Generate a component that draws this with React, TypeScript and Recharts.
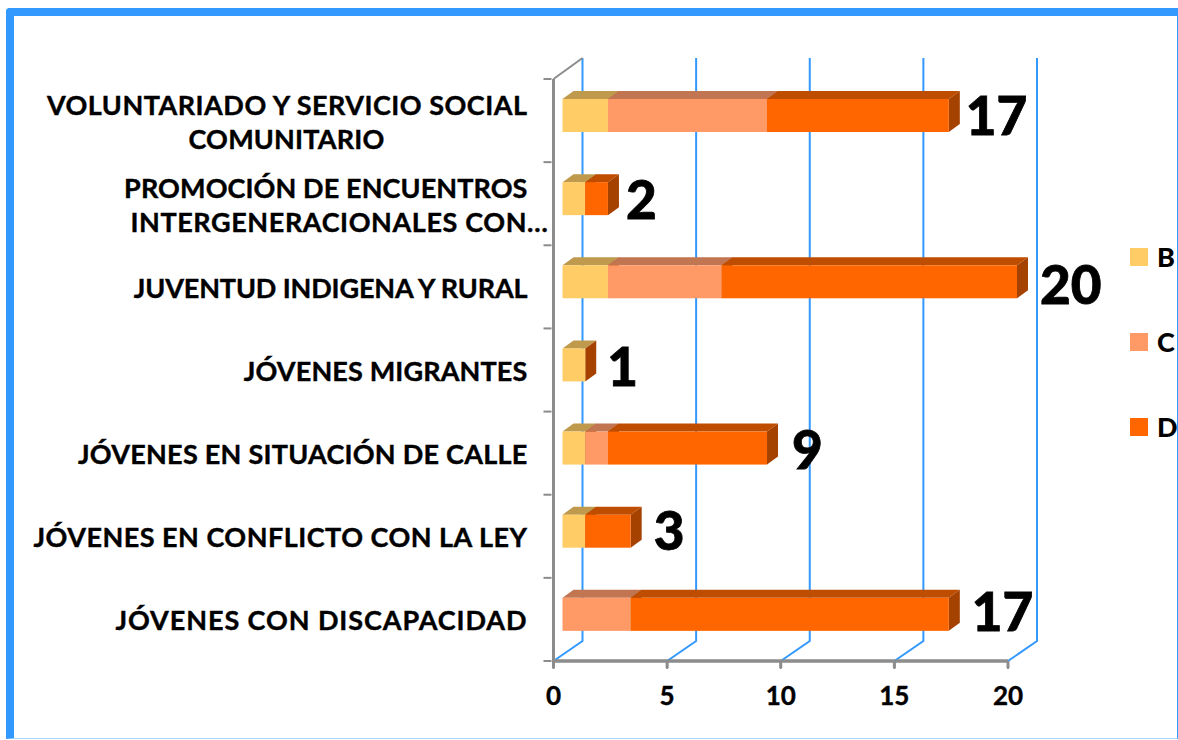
import { BarChart, Bar, XAxis, YAxis, CartesianGrid, Legend, LabelList } from 'recharts';

const CATEGORIES = [
  'VOLUNTARIADO Y SERVICIO SOCIAL|COMUNITARIO',
  'PROMOCIÓN DE ENCUENTROS|INTERGENERACIONALES CON…',
  'JUVENTUD INDIGENA Y RURAL',
  'JÓVENES MIGRANTES',
  'JÓVENES EN SITUACIÓN DE CALLE',
  'JÓVENES EN CONFLICTO CON LA LEY',
  'JÓVENES CON DISCAPACIDAD',
];
const SERIES_B = [2, 1, 2, 1, 1, 1, 0];
const SERIES_C = [7, 0, 5, 0, 1, 0, 3];
const SERIES_D = [8, 1, 13, 0, 7, 2, 14];
const TOTALS = [17, 2, 20, 1, 9, 3, 17];
const X_TICKS = [0, 5, 10, 15, 20];

// small hand nudges for the big total labels [dx, dy]
const TOTAL_NUDGE = [
  [-7, 0], [-6, 1], [-1, 3], [-2, 2], [1, 2], [-1, 0], [-1, -2],
];

// letter spacing per label line, Lato runs wider or narrower than the original font
const LINE_TRACKING: Record<string, number> = {
  'VOLUNTARIADO Y SERVICIO SOCIAL': 0.5,
  COMUNITARIO: 0.2,
  'PROMOCIÓN DE ENCUENTROS': 0.1,
  'INTERGENERACIONALES CON…': 0.6,
  'JUVENTUD INDIGENA Y RURAL': -0.13,
  'JÓVENES MIGRANTES': 0.14,
  'JÓVENES EN SITUACIÓN DE CALLE': 0.25,
  'JÓVENES EN CONFLICTO CON LA LEY': 0.49,
  'JÓVENES CON DISCAPACIDAD': 0.92,
};

const chartData = CATEGORIES.map((name, i) => ({
  name,
  B: SERIES_B[i],
  C: SERIES_C[i],
  D: SERIES_D[i],
}));

const FONT = 'Lato, "Open Sans", sans-serif';
const BLUE = '#3399ff';
const GREY = '#8c8c8c';

const PLOT_TOP = 79;
const PLOT_BOTTOM = 661;
const PLOT_LEFT = 553.5;
const PLOT_RIGHT = 1008;
const BAND = (PLOT_BOTTOM - PLOT_TOP) / CATEGORIES.length;

// depth of the fake 3D wall and of the bars
const WALL_DX = 29;
const WALL_DY = 20;
const BAR_DX = 11;
const BAR_DY = 8;
const BAR_SHIFT_X = 9;
const BAR_SHIFT_Y = -5;

const Box3D = ({ x, y, width, height, fill, top }: any) => {
  if (!width || width <= 0) return null;
  const x0 = x + BAR_SHIFT_X;
  const y0 = y + BAR_SHIFT_Y;
  const x1 = x0 + width;
  const y1 = y0 + height;
  return (
    <g>
      <polygon
        points={`${x0},${y0} ${x0 + BAR_DX},${y0 - BAR_DY} ${x1 + BAR_DX},${y0 - BAR_DY} ${x1},${y0}`}
        fill={top}
      />
      <polygon
        points={`${x1},${y0} ${x1 + BAR_DX},${y0 - BAR_DY} ${x1 + BAR_DX},${y1 - BAR_DY} ${x1},${y1}`}
        fill="#a64200"
      />
      <rect x={x0} y={y0} width={width} height={height} fill={fill} />
    </g>
  );
};

const CategoryTick = ({ x, y, payload, index }: any) => {
  const lines = String(payload.value).split('|');
  const startY = y + 11 - (lines.length - 1) * 17;
  const axisX = x + 8;
  return (
    <g>
      <line x1={x} x2={axisX} y1={y - BAND / 2} y2={y - BAND / 2} stroke={GREY} strokeWidth={2} />
      {index === CATEGORIES.length - 1 && (
        <line x1={x} x2={axisX} y1={y + BAND / 2} y2={y + BAND / 2} stroke={GREY} strokeWidth={2} />
      )}
      <text fontFamily={FONT} fontWeight={700} fontSize={27} fill="#000" stroke="#000" strokeWidth={0.4}>
        {lines.map((line, i) => {
          // wrapped labels: second line is centred, the ellipsis one hangs past the first
          const wrapped = i === 1 && !line.endsWith('…');
          return (
            <tspan
              key={line}
              x={line.endsWith('…') ? x + 5 : wrapped ? x - 257 : x - 16}
              y={startY + i * 34}
              textAnchor={wrapped ? 'middle' : 'end'}
              letterSpacing={LINE_TRACKING[line]}
            >
              {line}
            </tspan>
          );
        })}
      </text>
    </g>
  );
};

const ValueTick = ({ x, y, payload }: any) => (
  <text
    x={x}
    y={y + 35}
    textAnchor="middle"
    fontFamily={FONT}
    fontWeight={700}
    fontSize={26}
    fill="#000"
    stroke="#000"
    strokeWidth={0.4}
  >
    {payload.value}
  </text>
);

const GridLine = ({ x1, y1, y2, index }: any) => (
  <g key={`grid-${index}`}>
    <polyline
      points={`${x1 + WALL_DX},${y1 - WALL_DY - 1} ${x1 + WALL_DX},${y2 - WALL_DY} ${x1},${y2}`}
      fill="none"
      stroke={BLUE}
      strokeWidth={2}
    />
    <line x1={x1} x2={x1} y1={y2} y2={y2 + 8} stroke={GREY} strokeWidth={2} />
    {index === 0 && (
      <>
        <line x1={x1} y1={y1} x2={x1 + WALL_DX} y2={y1 - WALL_DY - 1} stroke={GREY} strokeWidth={2} />
        <line x1={PLOT_LEFT} x2={PLOT_RIGHT} y1={y2} y2={y2} stroke={GREY} strokeWidth={3} />
      </>
    )}
  </g>
);

const TotalLabel = ({ x, y, width, height, index }: any) => {
  const [dx, dy] = TOTAL_NUDGE[index];
  return (
    <text
      x={x + width + BAR_SHIFT_X + BAR_DX + 13 + dx}
      y={y + height / 2 + BAR_SHIFT_Y + 19 + dy}
      fontFamily={FONT}
      fontWeight={900}
      fontSize={53}
      fill="#000"
      stroke="#000"
      strokeWidth={0.8}
    >
      {TOTALS[index]}
    </text>
  );
};

const LegendList = ({ payload }: any) => (
  <div style={{ fontFamily: FONT, fontWeight: 900, fontSize: 27, color: '#000' }}>
    {(payload || []).map((item: any) => (
      <div key={item.value} style={{ display: 'flex', alignItems: 'center', height: 85 }}>
        <span style={{ width: 18, height: 18, background: item.color, marginRight: 9, flex: 'none' }} />
        <span style={{ lineHeight: '26px' }}>{item.value}</span>
      </div>
    ))}
  </div>
);

export default function App() {
  return (
    <div style={{ position: 'fixed', left: 0, top: 0, width: 1178, height: 740, overflow: 'hidden', background: '#fff' }}>
      <div
        style={{
          position: 'absolute',
          left: 6,
          top: 8,
          width: 1172,
          height: 731,
          boxSizing: 'border-box',
          borderLeft: `8px solid ${BLUE}`,
          borderTop: `8px solid ${BLUE}`,
          borderRight: `1px solid ${BLUE}`,
          borderBottom: '1px solid #a8d3ff',
          borderTopLeftRadius: 4,
        }}
      />
      <div style={{ position: 'absolute', left: 0, top: 0 }}>
        <BarChart
          width={1178}
          height={740}
          data={chartData}
          layout="vertical"
          barSize={33}
          margin={{ top: PLOT_TOP, right: 170, bottom: 44, left: 0 }}
        >
          <CartesianGrid horizontal={false} vertical={GridLine as any} />
          <XAxis
            type="number"
            domain={[0, 20]}
            ticks={X_TICKS}
            height={35}
            tick={ValueTick as any}
            tickSize={7}
            stroke={GREY}
            strokeWidth={3}
          />
          <YAxis
            type="category"
            dataKey="name"
            width={PLOT_LEFT}
            interval={0}
            tick={CategoryTick as any}
            tickSize={8}
            stroke={GREY}
            strokeWidth={3}
            tickLine={false}
          />
          <Legend
            layout="horizontal"
            verticalAlign="middle"
            align="center"
            content={LegendList as any}
            wrapperStyle={{ left: 1130, top: 214, width: 48, bottom: 'auto' }}
          />
          <Bar
            dataKey="B"
            stackId="a"
            fill="#ffcc66"
            isAnimationActive={false}
            shape={(p: any) => <Box3D {...p} fill="#ffcc66" top="#bf9a4d" />}
          />
          <Bar
            dataKey="C"
            stackId="a"
            fill="#ff9966"
            isAnimationActive={false}
            shape={(p: any) => <Box3D {...p} fill="#ff9966" top="#c17550" />}
          />
          <Bar
            dataKey="D"
            stackId="a"
            fill="#ff6600"
            isAnimationActive={false}
            shape={(p: any) => <Box3D {...p} fill="#ff6600" top="#bf4d00" />}
          >
            <LabelList dataKey="D" content={TotalLabel as any} />
          </Bar>
        </BarChart>
      </div>
    </div>
  );
}
